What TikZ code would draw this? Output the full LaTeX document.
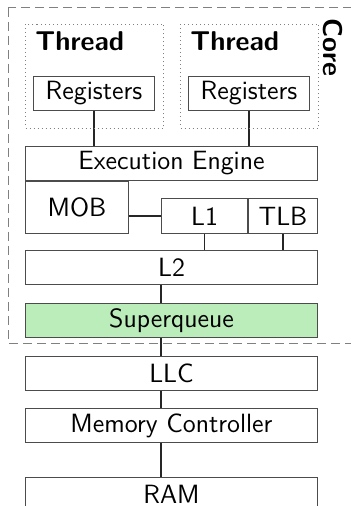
\documentclass[tikz,border=0pt]{standalone}
\usepackage{xcolor}
\usepackage{tikz}
\usetikzlibrary{positioning}
\definecolor{sqgreen}{RGB}{186, 237, 186}
\definecolor{framegray}{RGB}{128, 128, 128}

\begin{document}
\begin{tikzpicture}[
  x=1pt, y=1pt,
  box/.style={rectangle, draw=black!70, line width=0.5pt,
              minimum height=17pt, inner sep=0pt,
              text centered, font=\fontsize{13.2}{15}\selectfont\sffamily},
  wide/.style={box, minimum width=146pt},
  link/.style={line width=0.8pt, black!85},
  thread/.style={rectangle, draw=framegray, line width=0.5pt,
                 dash pattern=on 0.5pt off 1.5pt,
                 minimum width=69pt, minimum height=52pt, inner sep=0pt},
  title/.style={inner sep=0pt, font=\fontsize{13.6}{15}\selectfont\sffamily\bfseries},
  node distance=9pt
]
\useasboundingbox (0,0) rectangle (175,-253);

% Core frame
\draw[framegray, line width=0.5pt, dash pattern=on 4.5pt off 2.5pt]
  (4,-4) rectangle (185,-171.5);
\node[title, rotate=-90] (core) at (166.5,-23.75) {Core};

% Core column
\node[wide, anchor=north west] (ee) at (12.5,-73) {Execution Engine};
\node[box, minimum width=51.5pt, minimum height=26pt,
      below=0pt of ee.south west, anchor=north west] (mob) {MOB};
\node[box, minimum width=34.5pt, minimum height=17.5pt, anchor=south east]
  (tlb) at (mob.south -| ee.east) {TLB};
\node[box, minimum width=43pt, minimum height=17.5pt, left=0pt of tlb] (l1) {L1};
\draw[link] (l1.west -| mob.east) -- (l1.west);
\node[wide, below=8pt of mob.south west, anchor=north west] (l2) {L2};
\draw[link] (l1.south) -- (l1.south |- l2.north);
\draw[link] (tlb.south) -- (tlb.south |- l2.north);
\node[wide, fill=sqgreen, below=of l2] (sq) {Superqueue};

% Threads
\node[box, minimum width=60.5pt, above=17.5pt of ee.north west,
      anchor=south west, xshift=4pt] (reg1) {Registers};
\node[box, minimum width=60.5pt, above=17.5pt of ee.north west,
      anchor=south west, xshift=81.5pt] (reg2) {Registers};
\draw[link] (reg1.south) -- (reg1.south |- ee.north);
\draw[link] (reg2.south) -- (reg2.south |- ee.north);
\node[thread, anchor=south west] (th1) at ([xshift=-4pt, yshift=-9pt]reg1.south west) {};
\node[thread, anchor=south west] (th2) at ([xshift=-4pt, yshift=-9pt]reg2.south west) {};
\node[title, anchor=base west] (th1label) at ([xshift=5pt, yshift=-13.5pt]th1.north west) {Thread};
\node[title, anchor=base west] (th2label) at ([xshift=5pt, yshift=-13.5pt]th2.north west) {Thread};

% Memory column
\node[wide, below=of sq] (llc) {LLC};
\node[wide, below=8.5pt of llc] (mc) {Memory Controller};
\node[wide, below=17pt of mc] (ram) {RAM};
\draw[link] (l2.south -| l1.west) -- (sq.north -| l1.west);
\draw[link] (sq.south -| l1.west) -- (llc.north -| l1.west);
\draw[link] (llc.south -| l1.west) -- (mc.north -| l1.west);
\draw[link] (mc.south -| l1.west) -- (ram.north -| l1.west);

\end{tikzpicture}
\end{document}
